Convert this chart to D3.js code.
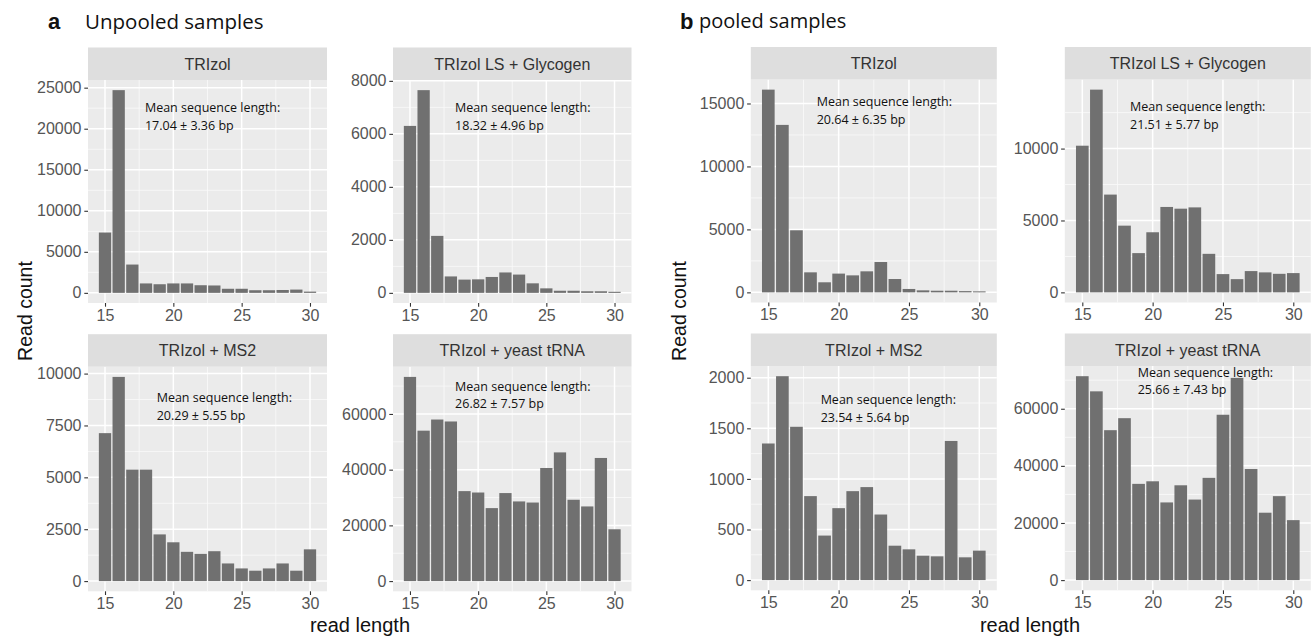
<!DOCTYPE html>
<html><head><meta charset="utf-8">
<script src="https://cdn.jsdelivr.net/npm/d3@7"></script>
<style>body{margin:0;background:#fff}svg{display:block}</style>
</head><body>
<svg id="c" width="1315" height="640"></svg>
<script>
// ---------- data ----------
const readLengths = [15,16,17,18,19,20,21,22,23,24,25,26,27,28,29,30];
const xTicks = [15,20,25,30];
const panelTitles = ["TRIzol","TRIzol LS + Glycogen","TRIzol + MS2","TRIzol + yeast tRNA"];

const unpooledTRIzol   = [7350,24700,3450,1150,1050,1150,1150,930,900,500,500,320,320,350,400,150];
const unpooledGlycogen = [6300,7650,2150,620,500,510,600,770,690,360,170,80,80,60,60,40];
const unpooledMS2      = [7130,9840,5370,5370,2250,1870,1410,1310,1440,850,610,500,610,850,500,1530];
const unpooledYeast    = [73300,54000,58000,57300,32300,31800,26200,31600,28600,28200,40600,46200,29200,26800,44200,18600];

const pooledTRIzol   = [16100,13300,4930,1590,800,1490,1350,1670,2410,1060,270,160,130,130,100,80];
const pooledGlycogen = [10200,14100,6800,4640,2730,4180,5940,5820,5910,2680,1270,920,1480,1390,1290,1340];
const pooledMS2      = [1350,2015,1515,830,440,711,879,919,648,340,304,241,235,1375,225,291];
const pooledYeast    = [71400,66100,52500,56700,33700,34600,27200,33200,28200,35800,57900,70800,38900,23600,29400,21000];

const unpooledMeans = ["17.04 ± 3.36 bp","18.32 ± 4.96 bp","20.29 ± 5.55 bp","26.82 ± 7.57 bp"];
const pooledMeans   = ["20.64 ± 6.35 bp","21.51 ± 5.77 bp","23.54 ± 5.64 bp","25.66 ± 7.43 bp"];

const unpooledYTicks = [[0,5000,10000,15000,20000,25000],[0,2000,4000,6000,8000],[0,2500,5000,7500,10000],[0,20000,40000,60000]];
const pooledYTicks   = [[0,5000,10000,15000],[0,5000,10000],[0,500,1000,1500,2000],[0,20000,40000,60000]];

// ---------- layout ----------
const svg = d3.select("#c");
const FONT = "Liberation Sans, Arial, sans-serif";
const NOTE_FONT = "Open Sans, Noto Sans, sans-serif";

const panels = [
  {vals:unpooledTRIzol,   title:panelTitles[0], mean:unpooledMeans[0], yt:unpooledYTicks[0], x0:88,    x1:327,   top:80,    bot:303,   ax:17.92, ay:21990},
  {vals:unpooledGlycogen, title:panelTitles[1], mean:unpooledMeans[1], yt:unpooledYTicks[1], x0:393,   x1:631.5, top:80,    bot:303,   ax:18.31, ay:6810},
  {vals:unpooledMS2,      title:panelTitles[2], mean:unpooledMeans[2], yt:unpooledYTicks[2], x0:88,    x1:327,   top:366.7, bot:591.3, ax:18.78, ay:8613},
  {vals:unpooledYeast,    title:panelTitles[3], mean:unpooledMeans[3], yt:unpooledYTicks[3], x0:393,   x1:631.5, top:366.7, bot:591.3, ax:18.31, ay:68400},
  {vals:pooledTRIzol,     title:panelTitles[0], mean:pooledMeans[0],   yt:pooledYTicks[0],   x0:750.8, x1:996.8, top:79.5,  bot:302.5, ax:18.44, ay:14785},
  {vals:pooledGlycogen,   title:panelTitles[1], mean:pooledMeans[1],   yt:pooledYTicks[1],   x0:1064.8,x1:1310.8,top:79.5,  bot:302.5, ax:18.39, ay:12590},
  {vals:pooledMS2,        title:panelTitles[2], mean:pooledMeans[2],   yt:pooledYTicks[2],   x0:750.8, x1:996.8, top:366,   bot:590.3, ax:18.72, ay:1739},
  {vals:pooledYeast,      title:panelTitles[3], mean:pooledMeans[3],   yt:pooledYTicks[3],   x0:1064.8,x1:1310.8,top:366,   bot:590.3, ax:18.94, ay:71150}
];
const STRIP_H = 32.5;
const barW = 0.9;

panels.forEach(p => {
  const lo = readLengths[0] - barW/2, hi = readLengths[readLengths.length-1] + barW/2;
  const xr = hi - lo;
  const x = d3.scaleLinear().domain([lo - 0.05*xr, hi + 0.05*xr]).range([p.x0, p.x1]);
  const mx = d3.max(p.vals);
  const y = d3.scaleLinear().domain([-0.05*mx, 1.05*mx]).range([p.bot, p.top]);

  const g = svg.append("g");
  g.append("rect").attr("x",p.x0).attr("y",p.top).attr("width",p.x1-p.x0).attr("height",p.bot-p.top).attr("fill","#ebebeb");

  // minor grid
  const step = p.yt[1]-p.yt[0];
  const yMinor = [];
  for (let i=0;i<p.yt.length+1;i++){ const v = p.yt[0]+step*(i+0.5); if (v<y.domain()[1]) yMinor.push(v); }
  const xMinor = [17.5,22.5,27.5];
  g.selectAll(".ymin").data(yMinor).enter().append("line")
    .attr("x1",p.x0).attr("x2",p.x1).attr("y1",d=>y(d)).attr("y2",d=>y(d))
    .attr("stroke","#fafafa").attr("stroke-width",0.8);
  g.selectAll(".xmin").data(xMinor).enter().append("line")
    .attr("y1",p.top).attr("y2",p.bot).attr("x1",d=>x(d)).attr("x2",d=>x(d))
    .attr("stroke","#fafafa").attr("stroke-width",0.8);
  // major grid
  g.selectAll(".ymaj").data(p.yt).enter().append("line")
    .attr("x1",p.x0).attr("x2",p.x1).attr("y1",d=>y(d)).attr("y2",d=>y(d))
    .attr("stroke","#fff").attr("stroke-width",1.5);
  g.selectAll(".xmaj").data(xTicks).enter().append("line")
    .attr("y1",p.top).attr("y2",p.bot).attr("x1",d=>x(d)).attr("x2",d=>x(d))
    .attr("stroke","#fff").attr("stroke-width",1.5);

  // bars
  g.selectAll(".bar").data(p.vals).enter().append("rect")
    .attr("x",(d,i)=>x(readLengths[i]-barW/2))
    .attr("width",(d,i)=>x(readLengths[i]+barW/2)-x(readLengths[i]-barW/2))
    .attr("y",d=>y(d)).attr("height",d=>y(0)-y(d))
    .attr("fill","#707070");

  // strip
  g.append("rect").attr("x",p.x0).attr("y",p.top-STRIP_H).attr("width",p.x1-p.x0).attr("height",STRIP_H).attr("fill","#dedede");
  g.append("text").attr("x",(p.x0+p.x1)/2).attr("y",p.top-STRIP_H/2).attr("dy","0.36em")
    .attr("text-anchor","middle").attr("font-family",FONT).attr("font-size",16).attr("fill","#333")
    .text(p.title);

  // annotation
  const t = g.append("text").attr("font-family",NOTE_FONT).attr("font-size",12.5).attr("fill","#111");
  t.append("tspan").attr("x",x(p.ax)).attr("y",y(p.ay)).text("Mean sequence length:");
  t.append("tspan").attr("x",x(p.ax)).attr("y",y(p.ay)+17.5).text(p.mean);

  // axes
  const ya = g.append("g").attr("transform",`translate(${p.x0},0)`)
    .call(d3.axisLeft(y).tickValues(p.yt).tickFormat(d3.format("d")).tickSize(3.7).tickPadding(2.8));
  const xa = g.append("g").attr("transform",`translate(0,${p.bot})`)
    .call(d3.axisBottom(x).tickValues(xTicks).tickFormat(d3.format("d")).tickSize(3.7).tickPadding(2.5));
  [ya,xa].forEach(a=>{
    a.select(".domain").remove();
    a.selectAll(".tick line").attr("stroke","#333").attr("stroke-width",1.1);
    a.selectAll(".tick text").attr("fill","#555").attr("font-family",FONT).attr("font-size",16);
  });
});

// titles
function panelLabel(x, letter){
  svg.append("text").attr("x",x).attr("y",29).attr("font-family",FONT).attr("font-weight","bold")
    .attr("font-size",22).attr("fill","#111").text(letter);
}
panelLabel(48,"a");
svg.append("text").attr("x",85).attr("y",29).attr("font-family",NOTE_FONT).attr("font-size",20.5).attr("fill","#111").text("Unpooled samples");
panelLabel(680,"b");
svg.append("text").attr("x",699).attr("y",28).attr("font-family",NOTE_FONT).attr("font-size",20).attr("fill","#111").text("pooled samples");

// axis titles
function yTitle(cx, cy){
  svg.append("text").attr("transform",`translate(${cx},${cy}) rotate(-90)`).attr("text-anchor","middle")
    .attr("dy","0.35em").attr("font-family",FONT).attr("font-size",19.5).attr("fill","#111").text("Read count");
}
yTitle(25,311);
yTitle(679,311);
function xTitle(cx){
  svg.append("text").attr("x",cx).attr("y",632).attr("text-anchor","middle")
    .attr("font-family",FONT).attr("font-size",20).attr("fill","#111").text("read length");
}
xTitle(360);
xTitle(1030);
</script>
</body></html>
